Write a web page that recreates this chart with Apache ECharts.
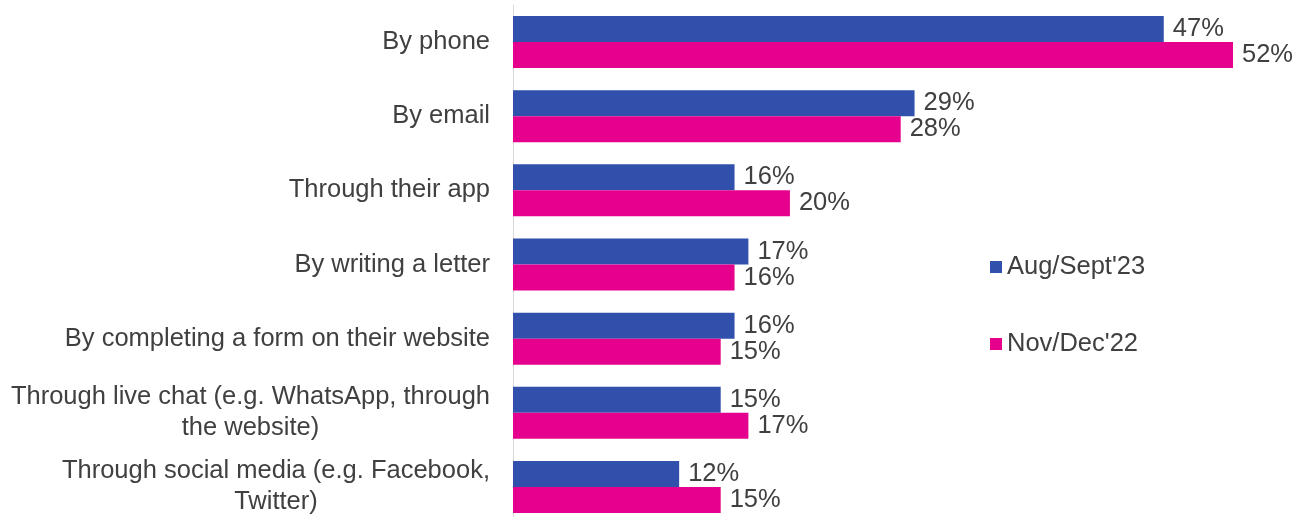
<!DOCTYPE html>
<html>
<head>
<meta charset="utf-8">
<script src="https://cdn.jsdelivr.net/npm/echarts@6/dist/echarts.min.js"></script>
<style>
  html, body { margin: 0; padding: 0; background: #fff; }
  #chart { width: 1303px; height: 517px; }
</style>
</head>
<body>
<div id="chart"></div>
<script>
// Contact channels, listed top to bottom
const categories = [
  'By phone',
  'By email',
  'Through their app',
  'By writing a letter',
  'By completing a form on their website',
  'Through live chat (e.g. WhatsApp, through\nthe website)',
  'Through social media (e.g. Facebook,\nTwitter)'
];
const seriesNames = ["Aug/Sept'23", "Nov/Dec'22"];
const augSept23 = [47, 29, 16, 17, 16, 15, 12];
const novDec22 = [52, 28, 20, 16, 15, 17, 15];

const FONT = '"Liberation Sans", Arial, sans-serif';
const TEXT = '#404040';
const BLUE = '#3050AC';
const PINK = '#E6008E';
const FS = 25.5;

const chart = echarts.init(document.getElementById('chart'), null, { renderer: 'canvas' });

function barSeries(name, data, color) {
  return {
    name: name,
    type: 'bar',
    data: data,
    barWidth: 26,
    barGap: '0%',
    itemStyle: { color: color },
    label: {
      show: true,
      position: 'right',
      distance: 9,
      formatter: '{c}%',
      color: TEXT,
      fontFamily: FONT,
      fontSize: FS
    }
  };
}

chart.setOption({
  animation: false,
  backgroundColor: '#fff',
  // the plot runs slightly past the bottom edge of the canvas
  grid: { left: 513, top: 5, width: 720, height: 519, containLabel: false, outerBoundsMode: 'none' },
  legend: {
    orient: 'vertical',
    left: 985,
    top: 249,
    icon: 'rect',
    itemWidth: 12,
    itemHeight: 12,
    itemGap: 51,
    textStyle: { color: TEXT, fontFamily: FONT, fontSize: FS },
    data: seriesNames
  },
  xAxis: {
    type: 'value',
    min: 0,
    max: 52,
    show: false
  },
  yAxis: {
    type: 'category',
    inverse: true,
    data: categories,
    axisLine: { show: true, lineStyle: { color: '#D9D9D9', width: 1 } },
    axisTick: { show: false },
    axisLabel: {
      margin: 23,
      color: TEXT,
      fontFamily: FONT,
      fontSize: FS,
      lineHeight: 31,
      formatter: function (v) {
        return v.split('\n').map(function (l) { return '{c|' + l + '}'; }).join('\n');
      },
      rich: {
        c: { align: 'center', color: TEXT, fontFamily: FONT, fontSize: FS, lineHeight: 31 }
      }
    }
  },
  series: [
    barSeries(seriesNames[0], augSept23, BLUE),
    barSeries(seriesNames[1], novDec22, PINK)
  ]
});
</script>
</body>
</html>
